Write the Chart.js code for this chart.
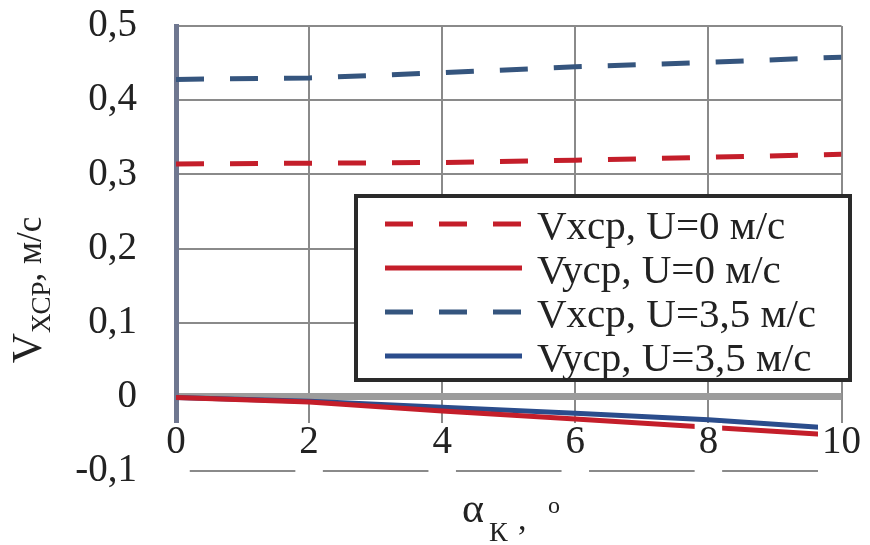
<!DOCTYPE html>
<html>
<head>
<meta charset="utf-8">
<script src="https://cdn.jsdelivr.net/npm/chart.js@4.4.1/dist/chart.umd.min.js"></script>
<style>
  html, body { margin: 0; padding: 0; background: #fff; }
  #wrap { width: 870px; height: 545px; }
</style>
</head>
<body>
<div id="wrap"><canvas id="vel_chart" width="870" height="545"></canvas></div>
<script>
// angle alpha_K, degrees (x axis)
const alphaK = [0, 2, 4, 6, 8, 10];

// mean velocities, m/s
const vxU0   = [0.314, 0.315, 0.316, 0.319, 0.323, 0.327];
const vyU0   = [-0.001, -0.007, -0.019, -0.030, -0.041, -0.052];
const vxU35  = [0.428, 0.430, 0.437, 0.445, 0.451, 0.458];
const vyU35  = [-0.001, -0.006, -0.014, -0.022, -0.031, -0.043];

const seriesNames = ['Vxcp, U=0 м/с', 'Vycp, U=0 м/с', 'Vxcp, U=3,5 м/с', 'Vycp, U=3,5 м/с'];

const FONT = '"Liberation Serif", "Times New Roman", serif';
const RED = '#c41e2a';
const BLUE_D = '#35557e';
const BLUE_S = '#2b4d8c';

function pts(ys) {
    return alphaK.map((a, i) => ({ x: a, y: ys[i] }));
}

// legend box drawn inside the plot, like the original
const boxLegend = {
    id: 'boxLegend',
    afterDraw(chart) {
        const ctx = chart.ctx;
        const L = { left: 356, top: 196, right: 850, bottom: 380 };
        ctx.save();
        ctx.fillStyle = '#fff';
        ctx.fillRect(L.left, L.top, L.right - L.left, L.bottom - L.top);
        ctx.lineWidth = 4;
        ctx.strokeStyle = '#2a2a2a';
        ctx.strokeRect(L.left, L.top, L.right - L.left, L.bottom - L.top);

        ctx.font = '41px ' + FONT;
        ctx.textBaseline = 'alphabetic';
        chart.data.datasets.forEach((ds, i) => {
            const base = 239 + i * 44;
            const ly = base - 15;
            ctx.beginPath();
            ctx.setLineDash(ds.borderDash || []);
            ctx.lineWidth = ds.borderWidth;
            ctx.strokeStyle = ds.borderColor;
            ctx.moveTo(385, ly);
            ctx.lineTo(522, ly);
            ctx.stroke();
            ctx.setLineDash([]);
            ctx.fillStyle = '#222';
            ctx.fillText(ds.label, 537, base);
        });
        ctx.restore();
    }
};

// axis titles with sub/superscripts
const axisTitles = {
    id: 'axisTitles',
    afterDraw(chart) {
        const ctx = chart.ctx;
        ctx.save();
        ctx.fillStyle = '#222';
        ctx.textBaseline = 'alphabetic';

        // y title, rotated
        const parts = [
            { t: 'V', f: '42px ', dy: 0 },
            { t: 'ХСР', f: '27px ', dy: 9 },
            { t: ', м/с', f: '35px ', dy: 0 }
        ];
        let total = 0;
        parts.forEach(p => { ctx.font = p.f + FONT; p.w = ctx.measureText(p.t).width; total += p.w; });
        ctx.translate(41, 290);
        ctx.rotate(-Math.PI / 2);
        let x = -total / 2;
        parts.forEach(p => { ctx.font = p.f + FONT; ctx.fillText(p.t, x, p.dy); x += p.w; });
        ctx.setTransform(1, 0, 0, 1, 0, 0);

        // x title
        ctx.font = '42px ' + FONT;
        ctx.fillText('α', 462, 522);
        ctx.font = '28px ' + FONT;
        ctx.fillText('К', 489, 541);
        ctx.font = '34px ' + FONT;
        ctx.fillText(',', 518, 530);
        ctx.font = '24px ' + FONT;
        ctx.fillText('o', 548, 513);
        ctx.restore();
    }
};

function initializeChart() {
    const ctx = document.getElementById('vel_chart').getContext('2d');

    new Chart(ctx, {
        type: 'line',
        data: {
            datasets: [
                { label: seriesNames[0], data: pts(vxU0), borderColor: RED, borderWidth: 5, borderDash: [28, 26] },
                { label: seriesNames[1], data: pts(vyU0), borderColor: RED, borderWidth: 5 },
                { label: seriesNames[2], data: pts(vxU35), borderColor: BLUE_D, borderWidth: 5, borderDash: [28, 26] },
                { label: seriesNames[3], data: pts(vyU35), borderColor: BLUE_S, borderWidth: 5 }
            ]
        },
        options: {
            responsive: false,
            animation: false,
            devicePixelRatio: 1,
            layout: { padding: { top: 26, right: 23, left: 0, bottom: 0 } },
            elements: {
                point: { radius: 0 },
                line: { tension: 0, borderCapStyle: 'butt' }
            },
            scales: {
                x: {
                    type: 'linear',
                    min: 0,
                    max: 10,
                    ticks: {
                        stepSize: 2,
                        z: 1,
                        mirror: true,
                        padding: 9,
                        color: '#222',
                        font: { family: FONT, size: 39, lineHeight: 1 },
                        showLabelBackdrop: true,
                        backdropColor: '#fff',
                        backdropPadding: { top: 0, bottom: 13, left: 4, right: 4 }
                    },
                    grid: { color: '#8a8a8a', lineWidth: 2, drawTicks: false },
                    border: { display: false },
                    afterFit(scale) { scale.height = 74; }
                },
                y: {
                    min: -0.1,
                    max: 0.5,
                    ticks: {
                        stepSize: 0.1,
                        padding: 39,
                        color: '#222',
                        font: { family: FONT, size: 39 },
                        callback: v => String(Math.round(v * 10) / 10).replace('.', ',')
                    },
                    grid: {
                        drawTicks: false,
                        color: c => Math.abs(c.tick.value) < 1e-9 ? '#9c9c9c' : '#8a8a8a',
                        lineWidth: c => Math.abs(c.tick.value) < 1e-9 ? 7 : 2
                    },
                    border: { color: '#6f7790', width: 5 },
                    afterFit(scale) {
                        scale.width = 176;
                        scale.paddingTop = 0;
                        scale.paddingBottom = 0;
                    }
                }
            },
            plugins: {
                legend: { display: false },
                tooltip: { enabled: false }
            }
        },
        plugins: [boxLegend, axisTitles]
    });
}

document.addEventListener('DOMContentLoaded', initializeChart);
</script>
</body>
</html>
